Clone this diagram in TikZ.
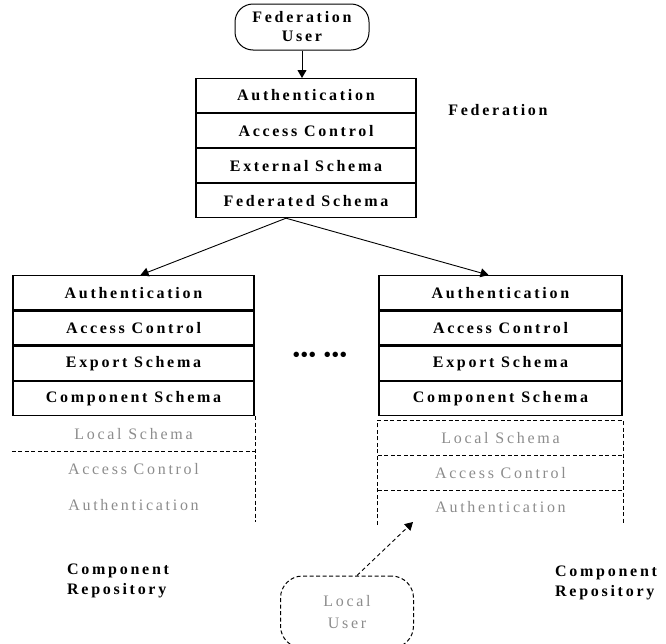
\documentclass[tikz,border=0pt]{standalone}
\usepackage{fontspec}
\setmainfont{Liberation Serif}
\newfontfamily\spaced[LetterSpace=17]{Liberation Serif}
\usetikzlibrary{arrows.meta,positioning}
\definecolor{ghostgray}{gray}{0.55}

\tikzset{
    layer/.style={draw, line width=1.3pt, minimum height=34pt, inner sep=0pt,
        font={\fontsize{16}{18}\selectfont\spaced\bfseries}},
    ghostlayer/.style={minimum height=34.5pt, inner sep=0pt, text=ghostgray,
        font={\fontsize{16}{18}\selectfont\spaced}},
    ghostline/.style={line width=1pt, dash pattern=on 4pt off 2.5pt},
    pill/.style={draw, line width=1pt, rounded corners=18pt, align=center},
    label/.style={inner sep=0pt, align=left, font={\fontsize{16}{20}\selectfont\spaced\bfseries}},
    link/.style={line width=0.9pt, -{Triangle[width=9pt,length=8pt]}}
}

\begin{document}
\begin{tikzpicture}[x=1pt,y=-1pt]
        \useasboundingbox (0,0) rectangle (666,643);
        \clip (0,0) rectangle (666,643);

        \node[pill, minimum width=134pt, minimum height=46pt,
            font={\fontsize{16}{19}\selectfont\spaced\bfseries}] (fu) at (302,27) {Federation\\User};

        \node[layer, minimum width=220pt, minimum height=33.75pt, anchor=north] (fa) at (306,78) {Authentication};
        \node[layer, minimum width=220pt, minimum height=33.75pt, below=0pt of fa] (fac) {Access Control};
        \node[layer, minimum width=220pt, minimum height=33.75pt, below=0pt of fac] (fes) {External Schema};
        \node[layer, minimum width=220pt, minimum height=33.75pt, below=0pt of fes] (ffs) {Federated Schema};
        \node[label] (fedlabel) at (498,110) {Federation};

        \node[layer, minimum width=241pt, anchor=north] (la) at (133.5,275) {Authentication};
        \node[layer, minimum width=241pt, below=0pt of la] (lac) {Access Control};
        \node[layer, minimum width=241pt, below=0pt of lac] (les) {Export Schema};
        \node[layer, minimum width=241pt, below=0pt of les] (lcs) {Component Schema};
        \node[ghostlayer, minimum width=243pt, minimum height=35pt, below=0pt of lcs] (ll1) {Local Schema};
        \node[ghostlayer, minimum width=243pt, minimum height=35pt, below=0pt of ll1] (ll2) {Access Control};
        \node[ghostlayer, minimum width=243pt, minimum height=35pt, below=0pt of ll2] (ll3) {Authentication};

        \node[layer, minimum width=243pt, anchor=north] (ra) at (500.5,275) {Authentication};
        \node[layer, minimum width=243pt, below=0pt of ra] (rac) {Access Control};
        \node[layer, minimum width=243pt, below=0pt of rac] (res) {Export Schema};
        \node[layer, minimum width=243pt, below=0pt of res] (rcs) {Component Schema};
        \node[ghostlayer, minimum width=245pt, below=4pt of rcs] (rl1) {Local Schema};
        \node[ghostlayer, minimum width=245pt, below=0pt of rl1] (rl2) {Access Control};
        \node[ghostlayer, minimum width=245pt, below=0pt of rl2] (rl3) {Authentication};

        \node[label, font={\fontsize{20}{20}\selectfont\bfseries}] (dots) at (320,357)
            {\textbullet\kern1pt\textbullet\kern1pt\textbullet\hspace{8pt}\textbullet\kern1pt\textbullet\kern1pt\textbullet};

        \node[label, anchor=west] (lrepo) at (67,581) {Component\\Repository};
        \node[label, anchor=west] (rrepo) at (555,583) {Component\\Repository};

        \node[pill, ghostline, minimum width=133pt, minimum height=72pt, rounded corners=22pt,
            text=ghostgray, font={\fontsize{16}{22}\selectfont\spaced}] (lu) at (347,612) {Local\\User};
        \coordinate (lutip) at (413,522);

        \draw[ghostline] (ll1.north east) -- (ll3.south east);
        \draw[ghostline] (ll2.north west) -- (ll2.north east);
        \draw[ghostline] (rl3.south west) -- (rl1.north west) -- (rl1.north east) -- (rl3.south east);
        \draw[ghostline] (rl2.north west) -- (rl2.north east);
        \draw[ghostline] (rl3.north west) -- (rl3.north east);

        \draw[link] (fu) -- (fu |- fa.north);
        \draw[link] ([xshift=-20pt]ffs.south) -- ([xshift=7pt]la.north);
        \draw[link] ([xshift=-20pt]ffs.south) -- ([xshift=-12pt]ra.north);
        \draw[link, dash pattern=on 4pt off 3pt] ([xshift=10pt]lu.north) -- (lutip);
    \end{tikzpicture}
\end{document}
